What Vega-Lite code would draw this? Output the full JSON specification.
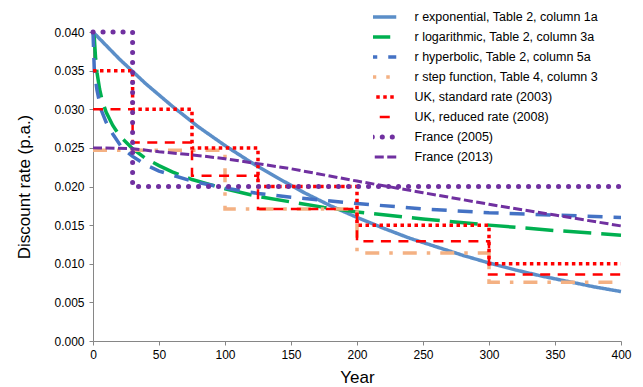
{
 "$schema": "https://vega.github.io/schema/vega-lite/v6.json",
 "width": 528, "height": 309,
 "autosize": {"type": "none"},
 "padding": {"left": 93, "top": 32, "right": 22, "bottom": 46},
 "config": {
  "view": {"stroke": null},
  "font": "Liberation Sans",
  "axis": {"domainColor": "#868686", "tickColor": "#868686", "labelColor": "#000", "labelFontSize": 12, "titleFontSize": 17, "titleFontWeight": "normal", "titleColor": "#000", "grid": false, "tickSize": 4, "labelFont": "Liberation Sans", "titleFont": "Liberation Sans"}
 },
 "datasets": {"d": [
  {"s": "r exponential, Table 2, column 1a", "x": 0, "y": 0.04},
  {"s": "r exponential, Table 2, column 1a", "x": 20, "y": 0.0365},
  {"s": "r exponential, Table 2, column 1a", "x": 40, "y": 0.0333},
  {"s": "r exponential, Table 2, column 1a", "x": 60, "y": 0.0304},
  {"s": "r exponential, Table 2, column 1a", "x": 80, "y": 0.0277},
  {"s": "r exponential, Table 2, column 1a", "x": 100, "y": 0.0253},
  {"s": "r exponential, Table 2, column 1a", "x": 120, "y": 0.0231},
  {"s": "r exponential, Table 2, column 1a", "x": 140, "y": 0.0211},
  {"s": "r exponential, Table 2, column 1a", "x": 160, "y": 0.0192},
  {"s": "r exponential, Table 2, column 1a", "x": 180, "y": 0.0175},
  {"s": "r exponential, Table 2, column 1a", "x": 200, "y": 0.016},
  {"s": "r exponential, Table 2, column 1a", "x": 220, "y": 0.0146},
  {"s": "r exponential, Table 2, column 1a", "x": 240, "y": 0.0133},
  {"s": "r exponential, Table 2, column 1a", "x": 260, "y": 0.0122},
  {"s": "r exponential, Table 2, column 1a", "x": 280, "y": 0.0111},
  {"s": "r exponential, Table 2, column 1a", "x": 300, "y": 0.0101},
  {"s": "r exponential, Table 2, column 1a", "x": 320, "y": 0.0092},
  {"s": "r exponential, Table 2, column 1a", "x": 340, "y": 0.0084},
  {"s": "r exponential, Table 2, column 1a", "x": 360, "y": 0.0077},
  {"s": "r exponential, Table 2, column 1a", "x": 380, "y": 0.007},
  {"s": "r exponential, Table 2, column 1a", "x": 400, "y": 0.0064},
  {"s": "r logarithmic, Table 2, column 3a", "x": 0, "y": 0.04},
  {"s": "r logarithmic, Table 2, column 3a", "x": 1, "y": 0.0392},
  {"s": "r logarithmic, Table 2, column 3a", "x": 2, "y": 0.0365},
  {"s": "r logarithmic, Table 2, column 3a", "x": 3, "y": 0.0348},
  {"s": "r logarithmic, Table 2, column 3a", "x": 5, "y": 0.0326},
  {"s": "r logarithmic, Table 2, column 3a", "x": 7, "y": 0.0311},
  {"s": "r logarithmic, Table 2, column 3a", "x": 10, "y": 0.0296},
  {"s": "r logarithmic, Table 2, column 3a", "x": 15, "y": 0.0279},
  {"s": "r logarithmic, Table 2, column 3a", "x": 20, "y": 0.0266},
  {"s": "r logarithmic, Table 2, column 3a", "x": 30, "y": 0.0249},
  {"s": "r logarithmic, Table 2, column 3a", "x": 40, "y": 0.0236},
  {"s": "r logarithmic, Table 2, column 3a", "x": 50, "y": 0.0227},
  {"s": "r logarithmic, Table 2, column 3a", "x": 60, "y": 0.0219},
  {"s": "r logarithmic, Table 2, column 3a", "x": 75, "y": 0.0209},
  {"s": "r logarithmic, Table 2, column 3a", "x": 100, "y": 0.0197},
  {"s": "r logarithmic, Table 2, column 3a", "x": 125, "y": 0.0187},
  {"s": "r logarithmic, Table 2, column 3a", "x": 150, "y": 0.018},
  {"s": "r logarithmic, Table 2, column 3a", "x": 175, "y": 0.0173},
  {"s": "r logarithmic, Table 2, column 3a", "x": 200, "y": 0.0167},
  {"s": "r logarithmic, Table 2, column 3a", "x": 250, "y": 0.0158},
  {"s": "r logarithmic, Table 2, column 3a", "x": 300, "y": 0.015},
  {"s": "r logarithmic, Table 2, column 3a", "x": 350, "y": 0.0143},
  {"s": "r logarithmic, Table 2, column 3a", "x": 400, "y": 0.0137},
  {"s": "r hyperbolic, Table 2, column 5a", "x": 0, "y": 0.04},
  {"s": "r hyperbolic, Table 2, column 5a", "x": 1, "y": 0.035},
  {"s": "r hyperbolic, Table 2, column 5a", "x": 3, "y": 0.0325},
  {"s": "r hyperbolic, Table 2, column 5a", "x": 6, "y": 0.03},
  {"s": "r hyperbolic, Table 2, column 5a", "x": 10, "y": 0.0283},
  {"s": "r hyperbolic, Table 2, column 5a", "x": 15, "y": 0.0268},
  {"s": "r hyperbolic, Table 2, column 5a", "x": 22, "y": 0.025},
  {"s": "r hyperbolic, Table 2, column 5a", "x": 30, "y": 0.0239},
  {"s": "r hyperbolic, Table 2, column 5a", "x": 40, "y": 0.0228},
  {"s": "r hyperbolic, Table 2, column 5a", "x": 50, "y": 0.022},
  {"s": "r hyperbolic, Table 2, column 5a", "x": 75, "y": 0.0207},
  {"s": "r hyperbolic, Table 2, column 5a", "x": 100, "y": 0.0198},
  {"s": "r hyperbolic, Table 2, column 5a", "x": 125, "y": 0.0191},
  {"s": "r hyperbolic, Table 2, column 5a", "x": 150, "y": 0.0186},
  {"s": "r hyperbolic, Table 2, column 5a", "x": 200, "y": 0.0178},
  {"s": "r hyperbolic, Table 2, column 5a", "x": 250, "y": 0.0171},
  {"s": "r hyperbolic, Table 2, column 5a", "x": 300, "y": 0.0166},
  {"s": "r hyperbolic, Table 2, column 5a", "x": 350, "y": 0.0163},
  {"s": "r hyperbolic, Table 2, column 5a", "x": 400, "y": 0.016},
  {"s": "r step function, Table 4, column 3", "x": 0, "y": 0.0247},
  {"s": "r step function, Table 4, column 3", "x": 100, "y": 0.0247},
  {"s": "r step function, Table 4, column 3", "x": 100, "y": 0.0171},
  {"s": "r step function, Table 4, column 3", "x": 200, "y": 0.0171},
  {"s": "r step function, Table 4, column 3", "x": 200, "y": 0.0114},
  {"s": "r step function, Table 4, column 3", "x": 300, "y": 0.0114},
  {"s": "r step function, Table 4, column 3", "x": 300, "y": 0.0076},
  {"s": "r step function, Table 4, column 3", "x": 400, "y": 0.0076},
  {"s": "UK, standard rate (2003)", "x": 0, "y": 0.035},
  {"s": "UK, standard rate (2003)", "x": 30, "y": 0.035},
  {"s": "UK, standard rate (2003)", "x": 30, "y": 0.03},
  {"s": "UK, standard rate (2003)", "x": 75, "y": 0.03},
  {"s": "UK, standard rate (2003)", "x": 75, "y": 0.025},
  {"s": "UK, standard rate (2003)", "x": 125, "y": 0.025},
  {"s": "UK, standard rate (2003)", "x": 125, "y": 0.02},
  {"s": "UK, standard rate (2003)", "x": 200, "y": 0.02},
  {"s": "UK, standard rate (2003)", "x": 200, "y": 0.015},
  {"s": "UK, standard rate (2003)", "x": 300, "y": 0.015},
  {"s": "UK, standard rate (2003)", "x": 300, "y": 0.01},
  {"s": "UK, standard rate (2003)", "x": 400, "y": 0.01},
  {"s": "UK, reduced rate (2008)", "x": 0, "y": 0.03},
  {"s": "UK, reduced rate (2008)", "x": 30, "y": 0.03},
  {"s": "UK, reduced rate (2008)", "x": 30, "y": 0.0257},
  {"s": "UK, reduced rate (2008)", "x": 75, "y": 0.0257},
  {"s": "UK, reduced rate (2008)", "x": 75, "y": 0.0214},
  {"s": "UK, reduced rate (2008)", "x": 125, "y": 0.0214},
  {"s": "UK, reduced rate (2008)", "x": 125, "y": 0.0171},
  {"s": "UK, reduced rate (2008)", "x": 200, "y": 0.0171},
  {"s": "UK, reduced rate (2008)", "x": 200, "y": 0.0129},
  {"s": "UK, reduced rate (2008)", "x": 300, "y": 0.0129},
  {"s": "UK, reduced rate (2008)", "x": 300, "y": 0.0086},
  {"s": "UK, reduced rate (2008)", "x": 400, "y": 0.0086},
  {"s": "France (2005)", "x": 0, "y": 0.04},
  {"s": "France (2005)", "x": 30, "y": 0.04},
  {"s": "France (2005)", "x": 30, "y": 0.02},
  {"s": "France (2005)", "x": 400, "y": 0.02},
  {"s": "France (2013)", "x": 0, "y": 0.025},
  {"s": "France (2013)", "x": 30, "y": 0.0249},
  {"s": "France (2013)", "x": 50, "y": 0.0245},
  {"s": "France (2013)", "x": 75, "y": 0.0241},
  {"s": "France (2013)", "x": 100, "y": 0.0236},
  {"s": "France (2013)", "x": 150, "y": 0.0223},
  {"s": "France (2013)", "x": 200, "y": 0.0207},
  {"s": "France (2013)", "x": 250, "y": 0.0192},
  {"s": "France (2013)", "x": 300, "y": 0.0177},
  {"s": "France (2013)", "x": 350, "y": 0.0163},
  {"s": "France (2013)", "x": 400, "y": 0.0149}
 ]},
 "data": {"name": "d"},
 "encoding": {
  "x": {"field": "x", "type": "quantitative", "scale": {"domain": [0, 400], "nice": false},
        "axis": {"title": "Year", "values": [0, 50, 100, 150, 200, 250, 300, 350, 400], "labelPadding": 4, "titlePadding": 9, "labelFlush": false}},
  "y": {"field": "y", "type": "quantitative", "scale": {"domain": [0, 0.04], "nice": false},
        "axis": {"title": "Discount rate (p.a.)", "values": [0, 0.005, 0.01, 0.015, 0.02, 0.025, 0.03, 0.035, 0.04], "format": ".3f", "labelPadding": 5, "titlePadding": 20, "labelFlush": false}},
  "color": {"field": "s", "type": "nominal",
   "scale": {"domain": ["r exponential, Table 2, column 1a", "r logarithmic, Table 2, column 3a", "r hyperbolic, Table 2, column 5a", "r step function, Table 4, column 3", "UK, standard rate (2003)", "UK, reduced rate (2008)", "France (2005)", "France (2013)"],
             "range": ["#5B8EC8", "#00B050", "#4472C4", "#F4B183", "#FF0000", "#FF0000", "#7030A0", "#7030A0"]},
   "legend": {"title": null, "orient": "none", "legendX": 280, "legendY": -25, "padding": 0, "symbolType": "stroke", "symbolSize": 1156, "clipHeight": 20, "rowPadding": 0, "labelOffset": 29, "labelFontSize": 12.5, "labelColor": "#000", "labelFont": "Liberation Sans", "labelLimit": 300,
     "encode": {"symbols": {"update": {
       "strokeCap": {"signal": "datum.value === 'France (2005)' ? 'round' : 'butt'"},
       "strokeWidth": {"signal": "datum.value === 'France (2005)' ? 5 : datum.value === 'UK, reduced rate (2008)' ? 2.5 : datum.value === 'France (2013)' ? 3 : 3.5"}}}}}},
  "strokeDash": {"field": "s", "type": "nominal",
   "scale": {"domain": ["r exponential, Table 2, column 1a", "r logarithmic, Table 2, column 3a", "r hyperbolic, Table 2, column 5a", "r step function, Table 4, column 3", "UK, standard rate (2003)", "UK, reduced rate (2008)", "France (2005)", "France (2013)"],
             "range": [[1, 0], [28, 10], [15, 11], [14, 10, 3.5, 10], [3.5, 3.5], [10, 7.5], [0.1, 9.9], [9, 3.5]]}},
  "order": {"value": null}
 },
 "layer": [
  {"transform": [{"filter": "datum.s !== 'France (2005)' && datum.s !== 'UK, reduced rate (2008)' && datum.s !== 'France (2013)'"}], "mark": {"type": "line", "strokeCap": "butt", "strokeWidth": 3.5}},
  {"transform": [{"filter": "datum.s === 'UK, reduced rate (2008)'"}], "mark": {"type": "line", "strokeCap": "butt", "strokeWidth": 2.5}},
  {"transform": [{"filter": "datum.s === 'France (2013)'"}], "mark": {"type": "line", "strokeCap": "butt", "strokeWidth": 3}},
  {"transform": [{"filter": "datum.s === 'France (2005)'"}], "mark": {"type": "line", "strokeCap": "round", "strokeWidth": 5}}
 ]
}
